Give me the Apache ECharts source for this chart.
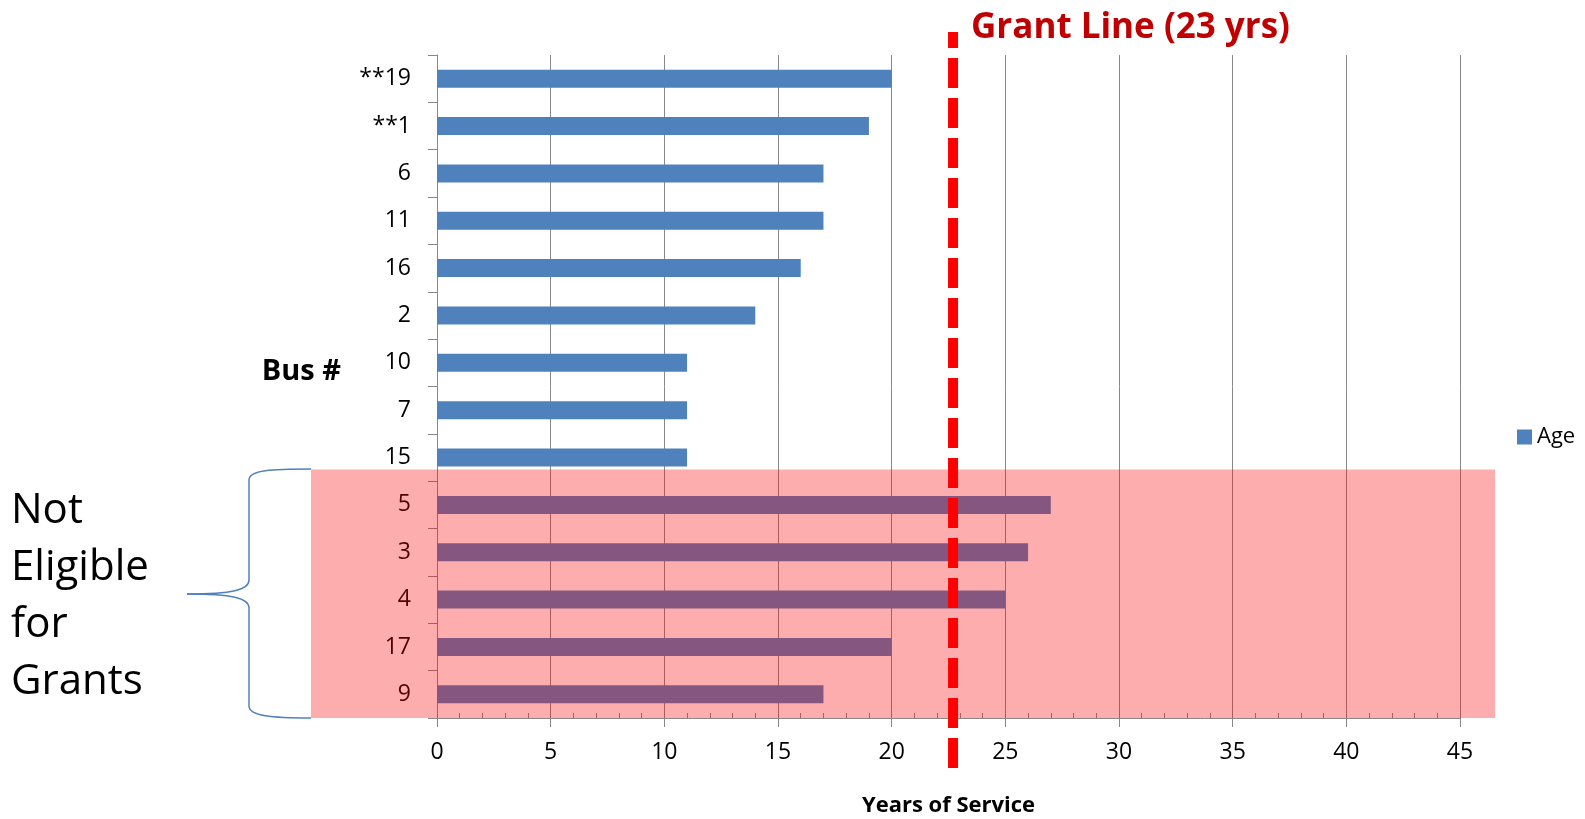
<!DOCTYPE html>
<html>
<head>
<meta charset="utf-8">
<script src="https://cdn.jsdelivr.net/npm/echarts@6/dist/echarts.min.js"></script>
<style>
    html, body { margin: 0; padding: 0; background: #fff; }
    #myChart { width: 1585px; height: 819px; }
</style>
</head>
<body>
<div id="myChart"></div>
<script>
// bus numbers, top to bottom
var buses = ['**19', '**1', '6', '11', '16', '2', '10', '7', '15', '5', '3', '4', '17', '9']
// age in years of service
var ages = [20, 19, 17, 17, 16, 14, 11, 11, 11, 27, 26, 25, 20, 17]
// x axis range
var xMin = 0
var xMax = 45
var xStep = 5
// the red line is drawn a bit left of 23 in the picture
var grantLine = 22.7
var grantLabel = 'Grant Line (23 yrs)'
// first bus that is not eligible
var firstNotEligible = 9

var font = '"Open Sans", "Liberation Sans", sans-serif'
var gridPos = { left: 437, right: 125, top: 55, bottom: 101, outerBoundsMode: 'none', containLabel: false }

var myChart = echarts.init(document.getElementById('myChart'))
var option = {
    animation: false,
    color: ['#4F81BD'],
    textStyle: { fontFamily: font },
    legend: {
        data: ['Age'],
        left: 1512,
        top: 421,
        itemWidth: 15,
        itemHeight: 15,
        icon: 'rect',
        textStyle: { fontSize: 22, color: '#000', fontFamily: font }
    },
    grid: [
        Object.assign({}, gridPos),
        Object.assign({}, gridPos)
    ],
    xAxis: [
        {
            type: 'value',
            min: xMin,
            max: xMax,
            interval: xStep,
            name: 'Years of Service',
            nameLocation: 'middle',
            nameGap: 77,
            nameTextStyle: { fontSize: 22, fontWeight: 'bold', color: '#000' },
            axisLine: { show: true, lineStyle: { color: '#888', width: 1 } },
            axisTick: { show: true, length: 9, lineStyle: { color: '#888' } },
            axisLabel: { fontSize: 23, color: '#000', margin: 23 },
            splitLine: { show: true, lineStyle: { color: '#888', width: 1 } }
        },
        {
            // small inside ticks every year
            gridIndex: 1,
            type: 'value',
            min: xMin,
            max: xMax,
            interval: 1,
            position: 'bottom',
            axisLine: { show: false },
            axisTick: { show: true, inside: true, length: 5, lineStyle: { color: '#888' } },
            axisLabel: { show: false },
            splitLine: { show: false }
        }
    ],
    yAxis: [
        {
            type: 'category',
            inverse: true,
            data: buses,
            axisLine: { show: true, lineStyle: { color: '#888', width: 1 } },
            axisTick: { show: true, length: 9, lineStyle: { color: '#888' } },
            axisLabel: { fontSize: 23, color: '#000', margin: 26 },
            splitLine: { show: false }
        },
        {
            gridIndex: 1,
            type: 'value',
            show: false
        }
    ],
    series: [
        {
            name: 'Age',
            type: 'bar',
            data: ages,
            barWidth: 18,
            itemStyle: { color: '#4F81BD' }
        }
    ]
}
myChart.setOption(option)

// annotations placed from the axes
var gx = myChart.convertToPixel({ xAxisIndex: 0 }, grantLine)
var yLast = myChart.convertToPixel({ yAxisIndex: 0 }, buses[firstNotEligible - 1])
var gridBottom = 819 - gridPos.bottom
var gridLeft = gridPos.left
var gridRight = 1585 - gridPos.right
var rectTop = yLast + 12

// brace pieces
var braceColor = '#4F81BD'
function curve(x1, y1, c1x, c1y, c2x, c2y, x2, y2) {
    return {
        type: 'bezierCurve',
        shape: { x1: x1, y1: y1, cpx1: c1x, cpy1: c1y, cpx2: c2x, cpy2: c2y, x2: x2, y2: y2 },
        style: { fill: null, stroke: braceColor, lineWidth: 1.5 },
        z: 110
    }
}
function seg(x1, y1, x2, y2) {
    return {
        type: 'line',
        shape: { x1: x1, y1: y1, x2: x2, y2: y2 },
        style: { stroke: braceColor, lineWidth: 1.5 },
        z: 110
    }
}

myChart.setOption({
    graphic: [
        {
            // pink band for not eligible buses
            type: 'rect',
            shape: { x: gridLeft - 126, y: rectTop, width: gridRight - gridLeft + 161, height: gridBottom - rectTop },
            style: { fill: 'rgba(250,0,0,0.32)' },
            z: 100,
            silent: true
        },
        {
            type: 'line',
            shape: { x1: gx, y1: 32, x2: gx, y2: 768 },
            style: { stroke: '#FF0000', lineWidth: 10, lineDash: [30, 10], lineDashOffset: 14 },
            z: 110,
            silent: true
        },
        {
            type: 'text',
            x: 971,
            y: 28,
            style: {
                text: grantLabel,
                fill: '#C00000',
                font: 'bold 35px ' + font,
                textVerticalAlign: 'middle'
            },
            z: 110
        },
        {
            type: 'text',
            x: 341,
            y: 372,
            style: {
                text: 'Bus #',
                fill: '#000',
                font: 'bold 29px ' + font,
                textAlign: 'right',
                textVerticalAlign: 'middle'
            },
            z: 110
        },
        {
            type: 'text',
            x: 11,
            y: 483,
            style: {
                text: 'Not\nEligible\nfor\nGrants',
                fill: '#000',
                font: '42px ' + font,
                lineHeight: 57
            },
            z: 110
        },
        curve(311, 469, 272, 469, 249, 470, 249, 480),
        seg(249, 480, 249, 580),
        curve(249, 580, 249, 590, 232, 594, 187, 594),
        curve(187, 594, 232, 594, 249, 598, 249, 608),
        seg(249, 608, 249, 706),
        curve(249, 706, 249, 716, 272, 718, 311, 718)
    ]
})
</script>
</body>
</html>
